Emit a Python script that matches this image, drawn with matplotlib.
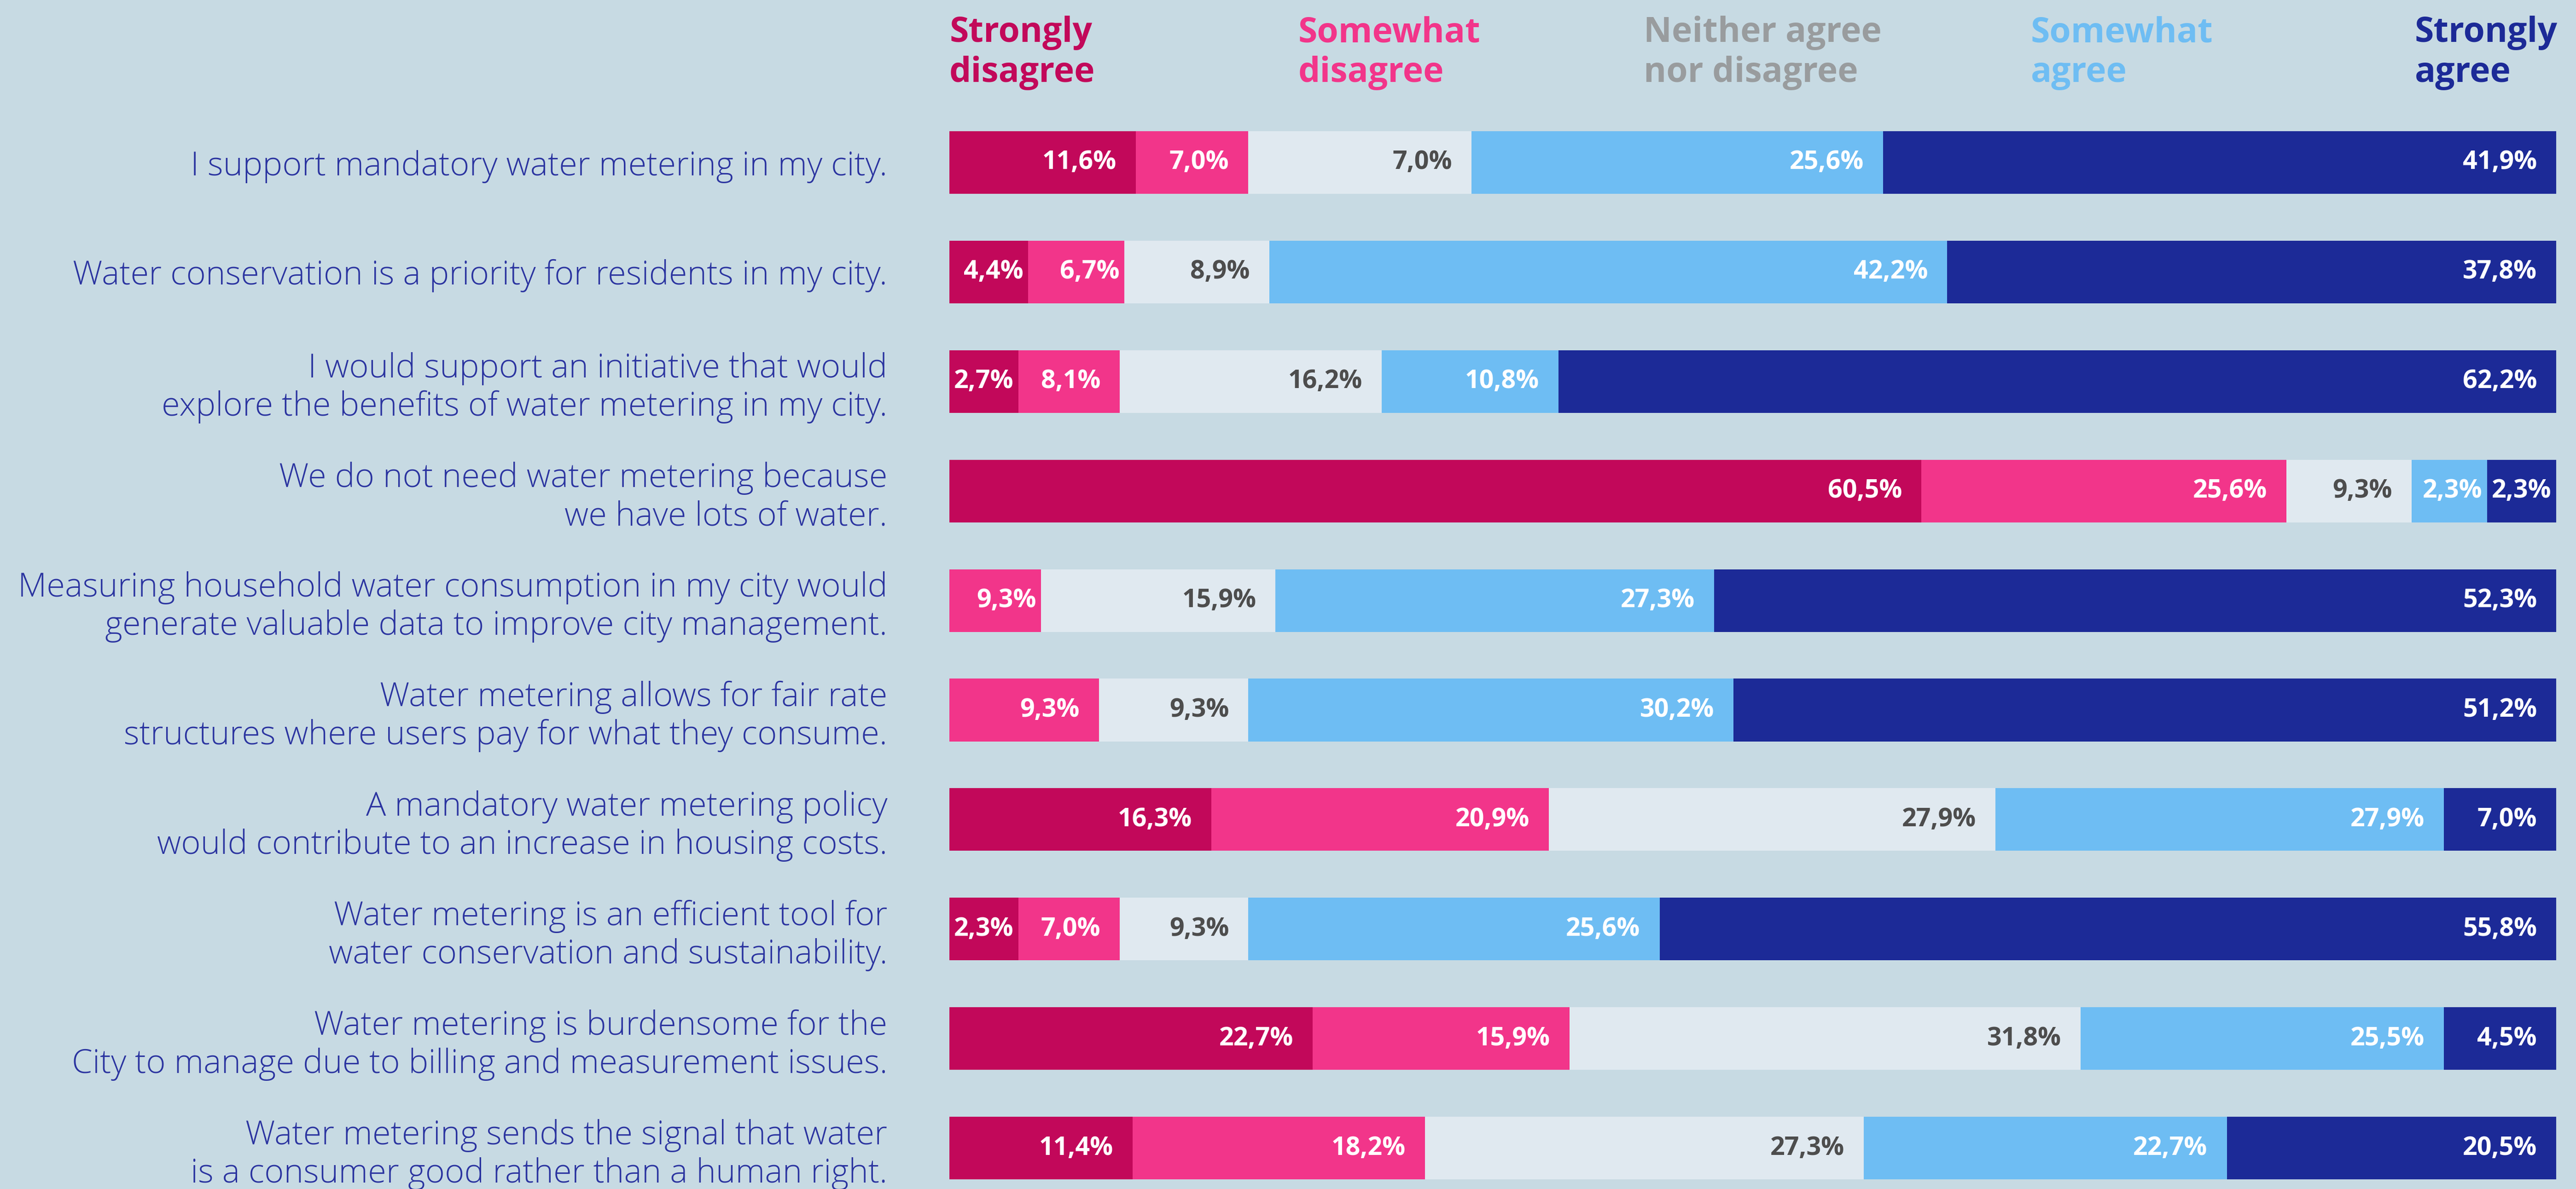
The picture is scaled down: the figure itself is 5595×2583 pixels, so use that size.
import matplotlib
matplotlib.use("Agg")
import matplotlib.pyplot as plt
import numpy as np

statements = [
    "I support mandatory water metering in my city.",
    "Water conservation is a priority for residents in my city.",
    "I would support an initiative that would\nexplore the benefits of water metering in my city.",
    "We do not need water metering because\nwe have lots of water.",
    "Measuring household water consumption in my city would\ngenerate valuable data to improve city management.",
    "Water metering allows for fair rate\nstructures where users pay for what they consume.",
    "A mandatory water metering policy\nwould contribute to an increase in housing costs.",
    "Water metering is an efficient tool for\nwater conservation and sustainability.",
    "Water metering is burdensome for the\nCity to manage due to billing and measurement issues.",
    "Water metering sends the signal that water\nis a consumer good rather than a human right.",
]

categories = ["Strongly\ndisagree", "Somewhat\ndisagree", "Neither agree\nnor disagree",
              "Somewhat\nagree", "Strongly\nagree"]

# segment widths as drawn in the reference (percent of bar)
strongly_disagree = [11.6, 4.9, 4.3, 60.5, 0.0, 0.0, 16.3, 4.3, 22.6, 11.4]
somewhat_disagree = [7.0, 6.0, 6.3, 22.7, 5.7, 9.3, 21.0, 6.3, 16.0, 18.2]
neutral = [13.9, 9.0, 16.3, 7.8, 14.6, 9.3, 27.8, 8.0, 31.8, 27.3]
somewhat_agree = [25.6, 42.2, 11.0, 4.7, 27.3, 30.2, 27.9, 25.6, 22.6, 22.6]
strongly_agree = [41.9, 37.9, 62.1, 4.3, 52.4, 51.2, 7.0, 55.8, 7.0, 20.5]

# printed labels
lbl_strongly_disagree = ["11,6%", "4,4%", "2,7%", "60,5%", "", "", "16,3%", "2,3%", "22,7%", "11,4%"]
lbl_somewhat_disagree = ["7,0%", "6,7%", "8,1%", "25,6%", "9,3%", "9,3%", "20,9%", "7,0%", "15,9%", "18,2%"]
lbl_neutral = ["7,0%", "8,9%", "16,2%", "9,3%", "15,9%", "9,3%", "27,9%", "9,3%", "31,8%", "27,3%"]
lbl_somewhat_agree = ["25,6%", "42,2%", "10,8%", "2,3%", "27,3%", "30,2%", "27,9%", "25,6%", "25,5%", "22,7%"]
lbl_strongly_agree = ["41,9%", "37,8%", "62,2%", "2,3%", "52,3%", "51,2%", "7,0%", "55,8%", "4,5%", "20,5%"]

colors = ["#C2085A", "#F2358A", "#E0E9F0", "#6EBDF3", "#1C2A97"]
header_colors = ["#C2085A", "#F2358A", "#999C9E", "#6EBDF3", "#1C2A97"]
value_colors = ["white", "white", "#4D4D4D", "white", "white"]
bg = "#C7DAE3"
label_color = "#2B34A0"
font = "Open Sans"

W, H, DPI = 5595, 2583, 100
fig = plt.figure(figsize=(W / DPI, H / DPI), dpi=DPI, facecolor=bg)
x0, x1 = 2062, 5552
ax = fig.add_axes([x0 / W, 0, (x1 - x0) / W, 1])
ax.set_facecolor(bg)

first_c, step = 353, 237.9
ax.set_ylim((H - first_c) / step, -first_c / step)
ax.set_xlim(0, 100)

series = [strongly_disagree, somewhat_disagree, neutral, somewhat_agree, strongly_agree]
labels = [lbl_strongly_disagree, lbl_somewhat_disagree, lbl_neutral, lbl_somewhat_agree, lbl_strongly_agree]
y = np.arange(len(statements))
left = np.zeros(len(statements))
for k, (vals, col) in enumerate(zip(series, colors)):
    vals = np.array(vals)
    ax.barh(y, vals, left=left, height=0.572, color=col, edgecolor="none")
    for i in range(len(statements)):
        if vals[i] > 0 and labels[k][i]:
            pad = 1.2 if vals[i] > 6 else 0.3
            ax.text(left[i] + vals[i] - pad, y[i], labels[k][i], ha="right", va="center",
                    color=value_colors[k], fontsize=40, fontweight="bold", family=font)
    left += vals

ax.set_yticks(y)
ax.set_yticklabels(statements, fontsize=52, color=label_color, family=font,
                   fontweight="light", linespacing=1.2)
ax.tick_params(axis="y", length=0, pad=97)
ax.tick_params(axis="x", bottom=False, labelbottom=False)
for s in ax.spines.values():
    s.set_visible(False)

header_x = [0, 21.7, 43.2, 67.3, 91.2]
for cx, name, hc in zip(header_x, categories, header_colors):
    ax.text(cx, -1.0, name, ha="left", va="center", color=hc, fontsize=54,
            fontweight="bold", family=font, linespacing=1.2)

fig.savefig("out.png", dpi=DPI, facecolor=bg)
